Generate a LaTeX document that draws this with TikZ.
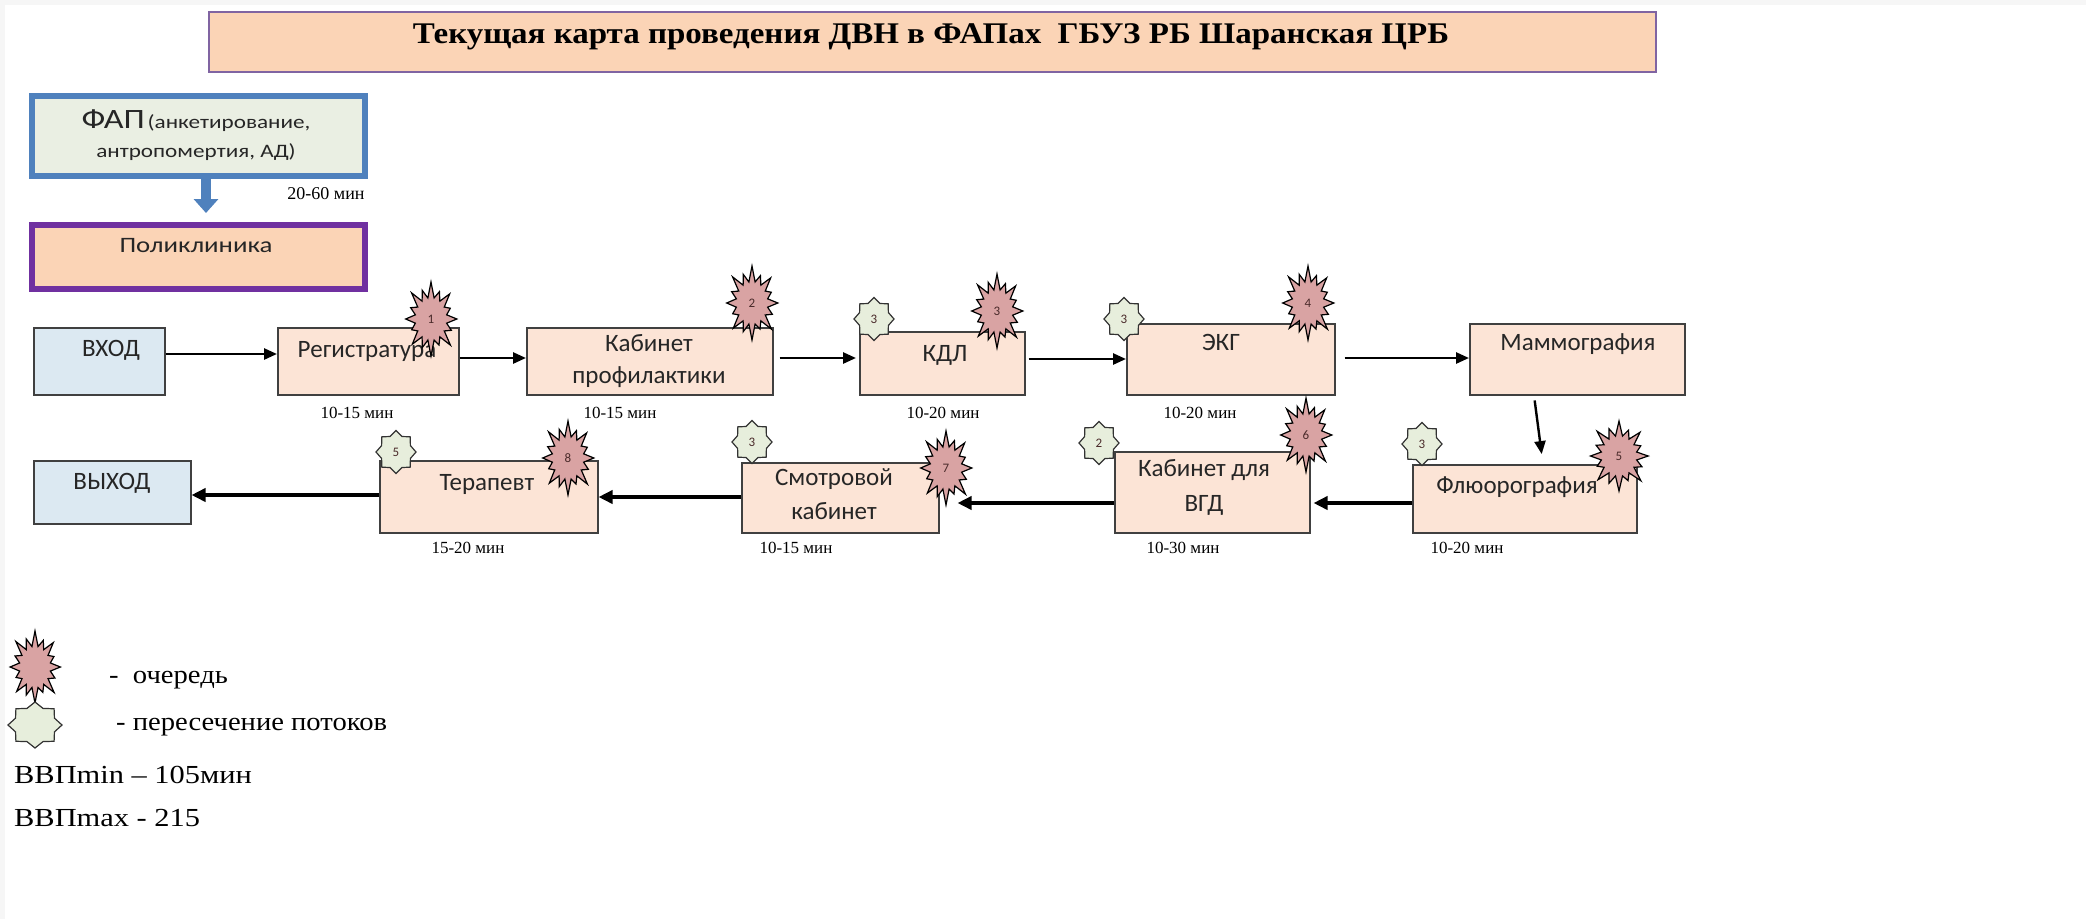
\documentclass[tikz,border=0pt]{standalone}
\usepackage{fontspec}
\setmainfont{Liberation Serif}
\newfontfamily\calfam{Carlito}
\newfontfamily\calwide[FakeStretch=1.22]{Carlito}
\newfontfamily\ttlfam[FakeStretch=1.1]{Liberation Serif}
\newfontfamily\legfam[FakeStretch=1.1]{Liberation Serif}
\newfontfamily\legwide[FakeStretch=1.17]{Liberation Serif}
\usetikzlibrary{arrows.meta}
\definecolor{peach}{HTML}{FCE4D6}
\definecolor{peachdark}{HTML}{FBD4B6}
\definecolor{skyfill}{HTML}{DCE9F2}
\definecolor{fapfill}{HTML}{EAEFE3}
\definecolor{fapblue}{HTML}{4F81BD}
\definecolor{polviolet}{HTML}{7030A0}
\definecolor{ttlborder}{HTML}{8064A2}
\definecolor{boxline}{HTML}{404040}
\definecolor{redfill}{HTML}{D9A3A3}
\definecolor{greenfill}{HTML}{E7EEDC}
\definecolor{edgegray}{HTML}{F6F6F6}
\definecolor{numcol}{HTML}{4A2A2A}
\tikzset{
  box/.style={draw=boxline, line width=1.5pt, fill=peach, anchor=north west, inner sep=0pt},
  btxt/.style={font=\calfam\fontsize{25}{31}\selectfont, text=black!85, align=center, inner sep=0pt},
  dur/.style={font=\fontsize{17}{20}\selectfont, inner sep=0pt},
  leg/.style={font=\legfam\fontsize{26}{30}\selectfont, inner sep=0pt, anchor=west},
  legB/.style={font=\legwide\fontsize{26}{30}\selectfont, inner sep=0pt, anchor=west},
  arrA/.style={line width=2.6pt, -{Triangle[length=13pt,width=11pt]}},
  arrB/.style={line width=4pt, -{Triangle[length=14pt,width=13pt]}},
  num/.style={font=\calfam\fontsize{13}{15}\selectfont, text=numcol, inner sep=0pt},
  redstar/.style={draw=black, line width=1.2pt, fill=redfill, line join=miter},
  greenstar/.style={draw=black!80, line width=1.2pt, fill=greenfill},
  boom/.pic={
    \draw[redstar] (0:0.47) \foreach \a/\r in {22.5/0.40,45/0.5,67.5/0.38,90/0.5,112.5/0.42,135/0.48,157.5/0.38,180/0.46,202.5/0.40,225/0.5,247.5/0.42,270/0.5,292.5/0.40,315/0.48,337.5/0.38} { -- (\a-11.25:0.29) -- (\a:\r) } -- (348.75:0.29) -- cycle;
    \node[num] {#1};
  },
  gstar/.pic={
    \draw[greenstar] (0:0.5) \foreach \a in {45,90,...,315} { -- (\a-22.5:0.39) -- (\a:0.5) } -- (337.5:0.39) -- cycle;
    \node[num] {#1};
  }
}
\begin{document}
\begin{tikzpicture}[x=1pt,y=-1pt]
\useasboundingbox (0,0) rectangle (2086,919);
\fill[white] (0,0) rectangle (2086,919);
\fill[edgegray] (0,0) rectangle (2086,5);
\fill[edgegray] (0,0) rectangle (5,919);

% title
\node[draw=ttlborder, line width=2pt, fill=peachdark, anchor=north west, minimum width=1447pt, minimum height=60pt, inner sep=0pt] (title) at (208,11) {};
\node[font=\ttlfam\bfseries\fontsize{30}{34}\selectfont, inner sep=0pt] (titletext) at (931,37) {Текущая карта проведения ДВН в ФАПах\ \ ГБУЗ РБ Шаранская ЦРБ};

% FAP and polyclinic
\node[draw=fapblue, line width=6pt, fill=fapfill, anchor=north west, minimum width=333pt, minimum height=80pt, inner sep=0pt] (fap) at (29,93) {};
\node[font=\calwide, text=black!85, inner sep=0pt, anchor=base] (faptxt1) at (196,128) {{\fontsize{28}{32}\selectfont ФАП} {\fontsize{19}{22}\selectfont (анкетирование,}};
\node[font=\calwide\fontsize{19}{22}\selectfont, text=black!85, inner sep=0pt, anchor=base] (faptxt2) at (196,157) {антропомертия, АД)};
\node[draw=polviolet, line width=6pt, fill=peachdark, anchor=north west, minimum width=333pt, minimum height=64pt, inner sep=0pt] (pol) at (29,222) {};
\node[font=\calwide\fontsize{22}{27}\selectfont, text=black!85, inner sep=0pt] (poltxt) at (196,246) {Поликлиника};
\coordinate (ba) at (206,177);
\draw[fapblue, line width=10pt, shorten >=9pt, -{Triangle[length=14pt,width=24pt]}] (ba) -- (pol.north -| ba);
\node[dur, font=\fontsize{18}{20}\selectfont] (d0) at (326,194) {20-60 мин};

% row 1
\node[box, fill=skyfill, minimum width=131pt, minimum height=67pt] (vhod) at (33,327) {};
\node[btxt] at (111,350) {ВХОД};
\node[box, minimum width=181pt, minimum height=67pt] (reg) at (277,327) {};
\node[btxt] at (367,351) {Регистратура};
\node[box, minimum width=246pt, minimum height=67pt] (prof) at (526,327) {};
\node[btxt] at (649,343) {Кабинет};
\node[btxt] at (649,377) {профилактики};
\node[box, minimum width=165pt, minimum height=63pt] (kdl) at (859,331) {};
\node[btxt] at (945,355) {КДЛ};
\node[box, minimum width=208pt, minimum height=71pt] (ekg) at (1126,323) {};
\node[btxt] at (1221,342) {ЭКГ};
\node[box, minimum width=215pt, minimum height=71pt] (mam) at (1469,323) {};
\node[btxt] at (1578,344) {Маммография};

% row 2
\node[box, fill=skyfill, minimum width=157pt, minimum height=63pt] (vyhod) at (33,460) {};
\node[btxt] at (112,483) {ВЫХОД};
\node[box, minimum width=218pt, minimum height=72pt] (ter) at (379,460) {};
\node[btxt] at (487,484) {Терапевт};
\node[box, minimum width=197pt, minimum height=70pt] (smo) at (741,462) {};
\node[btxt] at (834,479) {Смотровой};
\node[btxt] at (834,511) {кабинет};
\node[box, minimum width=195pt, minimum height=81pt] (vgd) at (1114,451) {};
\node[btxt] at (1204,470) {Кабинет для};
\node[btxt] at (1204,505) {ВГД};
\node[box, minimum width=224pt, minimum height=68pt] (flu) at (1412,464) {};
\node[btxt] at (1517,487) {Флюорография};

% arrows row 1
\draw[arrA] (vhod.east |- 0,354) -- (reg.west |- 0,354);
\draw[arrA] (reg.east |- 0,358) -- (prof.west |- 0,358);
\draw[arrA, shorten <=6pt, shorten >=3pt] (prof.east |- 0,358) -- (kdl.west |- 0,358);
\draw[arrA, shorten <=3pt] (kdl.east |- 0,359) -- (ekg.west |- 0,359);
\draw[arrA, shorten <=9pt] (ekg.east |- 0,358) -- (mam.west |- 0,358);
\draw[line width=2.4pt, -{Triangle[length=13pt,width=11pt]}, shorten <=5pt, shorten >=10pt] (mam.south -| 1534,0) -- (flu.north -| 1543,0);

% arrows row 2
\draw[arrB, shorten >=3pt] (flu.west |- 0,503) -- (vgd.east |- 0,503);
\draw[arrB, shorten >=18pt] (vgd.west |- 0,503) -- (smo.east |- 0,503);
\draw[arrB] (smo.west |- 0,497) -- (ter.east |- 0,497);
\draw[arrB] (ter.west |- 0,495) -- (vyhod.east |- 0,495);

% durations
\node[dur] at (357,413) {10-15 мин};
\node[dur] at (620,413) {10-15 мин};
\node[dur] at (943,413) {10-20 мин};
\node[dur] at (1200,413) {10-20 мин};
\node[dur] at (468,548) {15-20 мин};
\node[dur] at (796,548) {10-15 мин};
\node[dur] at (1183,548) {10-30 мин};
\node[dur] at (1467,548) {10-20 мин};

% green stars (crossing flows)
\pic[xscale=40, yscale=43] at (874,319) {gstar=3};
\pic[xscale=40, yscale=43] at (1124,319) {gstar=3};
\pic[xscale=40, yscale=43] at (396,452) {gstar=5};
\pic[xscale=40, yscale=43] at (752,442) {gstar=3};
\pic[xscale=40, yscale=43] at (1099,443) {gstar=2};
\pic[xscale=40, yscale=43] at (1422,444) {gstar=3};

% red stars (queue)
\pic[xscale=55, yscale=74] at (431,319) {boom=1};
\pic[xscale=55, yscale=74] at (752,303) {boom=2};
\pic[xscale=55, yscale=74] at (997,311) {boom=3};
\pic[xscale=55, yscale=74] at (1308,303) {boom=4};
\pic[xscale=62, yscale=70] at (1619,456) {boom=5};
\pic[xscale=55, yscale=74] at (1306,435) {boom=6};
\pic[xscale=55, yscale=74] at (946,468) {boom=7};
\pic[xscale=55, yscale=74] at (568,458) {boom=8};

% legend
\pic[xscale=54, yscale=72] at (35,667) {boom={}};
\node[leg] (l1) at (109,680) {-\ \ очередь};
\pic[xscale=54, yscale=46] at (35,725) {gstar={}};
\node[leg] (l2) at (116,727) {- пересечение потоков};
\node[legB] (l3) at (14,775) {ВВПmin – 105мин};
\node[legB] (l4) at (14,818) {ВВПmax - 215};
\end{tikzpicture}
\end{document}
